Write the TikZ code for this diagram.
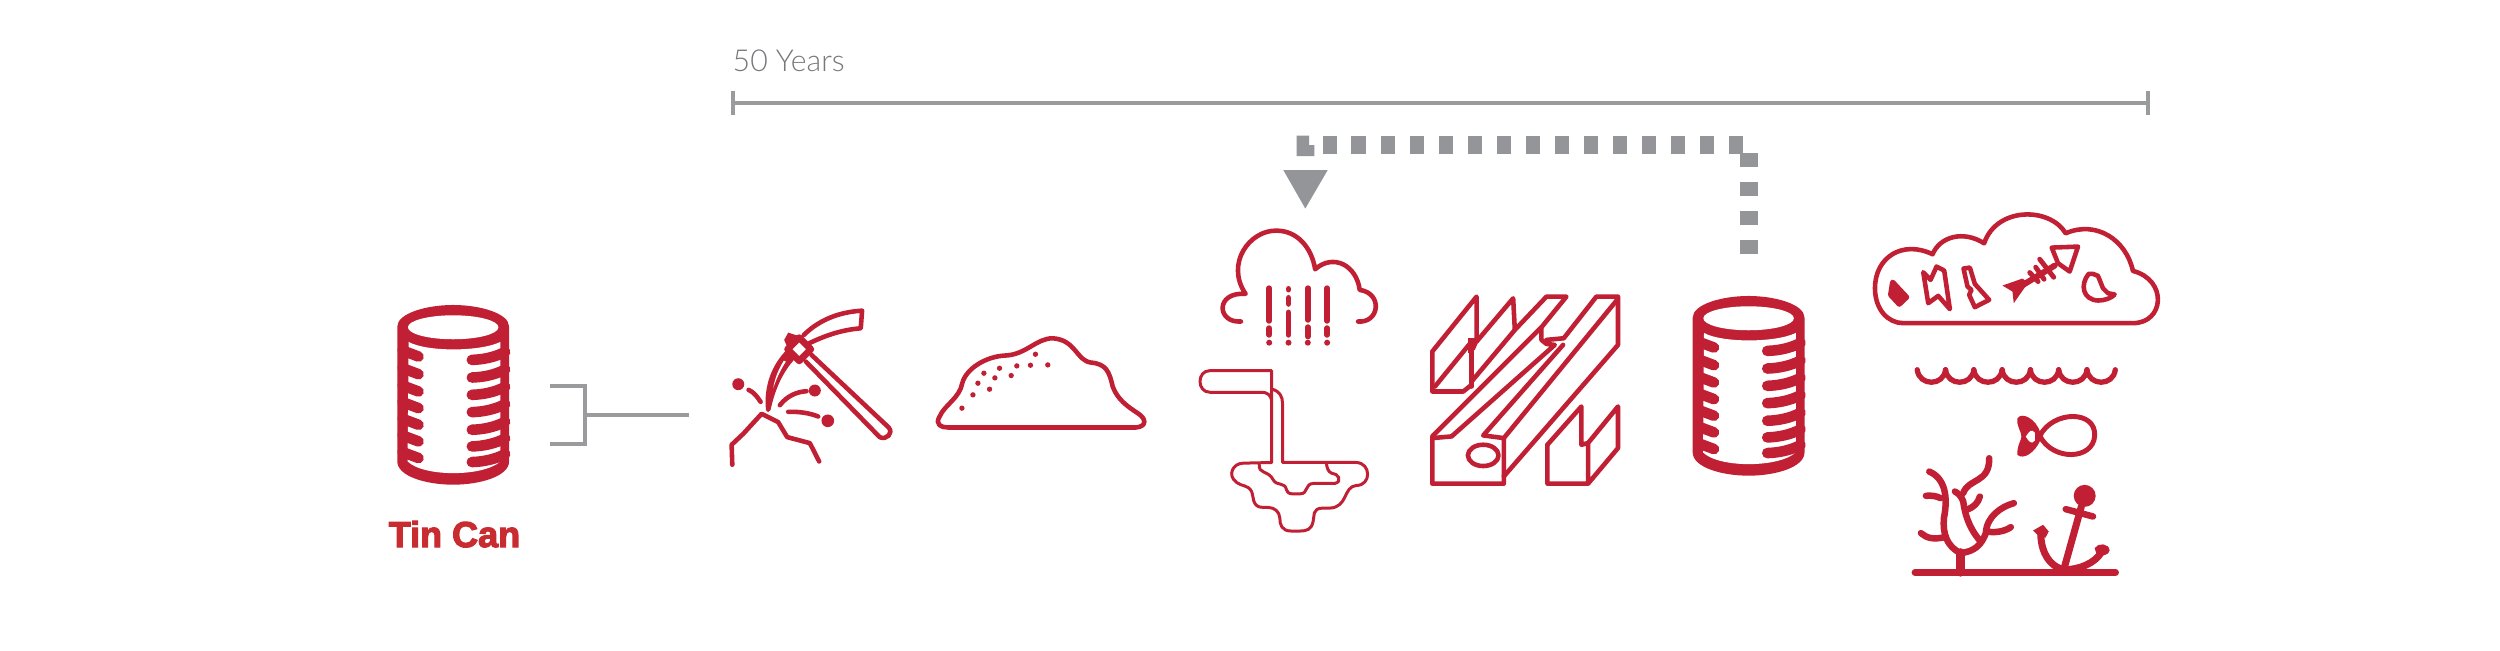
\documentclass[tikz,border=0pt]{standalone}
\usepackage{fontspec}
\setmainfont{Liberation Sans}
\newfontfamily\thinfont{Lato Light}
\newfontfamily\heavyfont[FakeBold=3.2]{Liberation Sans Bold}
\definecolor{tinred}{HTML}{C11F34}
\definecolor{labelred}{HTML}{C82C30}
\definecolor{rulegray}{HTML}{9A9B9D}
\definecolor{dotgray}{HTML}{939598}
\definecolor{textgray}{HTML}{77787B}
\tikzset{
  zoomed/.style n args={2}{xshift=#1*0.01cm,yshift=-#2*0.01cm,x=0.0033333cm,y=-0.0033333cm},
  ink/.style={draw=tinred,line width=1.3pt,line cap=round,line join=round},
  thinink/.style={draw=tinred,line width=0.85pt,line cap=round,line join=round},
  heavyink/.style={draw=tinred,line width=1.9pt,line cap=round,line join=round},
  solid red/.style={fill=tinred,draw=tinred,line width=0.4pt,line join=round},
  graybar/.style={draw=rulegray,line width=1.15pt},
  gapline/.style={draw=dotgray,line width=5.12pt,dash pattern=on 4.17pt off 4.08pt},
}
\newcommand{\canicon}[2]{%
\begin{scope}[zoomed={#1}{#2}]
 \fill[tinred] (112,140) .. controls (112,100) and (200,75) .. (280,75) .. controls (360,75) and (448,100) .. (448,140)
   -- (448,545) .. controls (448,590) and (360,615) .. (280,615) .. controls (200,615) and (112,590) .. (112,545) -- cycle;
 \fill[white] (280,142) ellipse [x radius=136,y radius=36];
 \fill[white] (146,186) .. controls (200,216) and (360,216) .. (422,186) -- (422,545)
   .. controls (370,592) and (190,592) .. (143,545) -- cycle;
 \foreach \yy in {230,283,335,385,435,485,535}
   \draw[tinred,line width=3pt,line cap=round] (128,\yy-18) -- (176,\yy);
 \foreach \yy in {240,293,345,397,450,500,547}
   \draw[tinred,line width=3pt,line cap=round] (336,\yy) .. controls (370,\yy-1) and (405,\yy-8) .. (436,\yy-24);
\end{scope}}
\begin{document}
\begin{tikzpicture}[x=0.01cm,y=-0.01cm]
\useasboundingbox (0,0) rectangle (2500,650);
\fill[white] (0,0) rectangle (2500,650);

% ---- time rule and its label
\coordinate (ruleL) at (733,103);
\coordinate (ruleR) at (2148,103);
\draw[graybar] (ruleL) -- (ruleR);
\draw[graybar] (733,91) -- (733,115);
\draw[graybar] (2148,91) -- (2148,115);
\node[anchor=base west,inner sep=0pt,text=textgray,font=\thinfont\fontsize{8.6pt}{10pt}\selectfont] (yearsLabel) at (732,71) {50 Years};

% ---- bracket
\coordinate (brTop) at (550,386);
\coordinate (brBot) at (550,444);
\coordinate (brStem) at (585,415);
\coordinate (brEnd) at (689,415);
\draw[graybar,line join=miter] (brTop) -| (brStem) |- (brBot);
\draw[graybar] (brStem) -- (brEnd);

% ---- recycling return
\coordinate (retA) at (1748.7,254.3);
\coordinate (retB) at (1748.7,153);
\coordinate (retC) at (1743.3,144.7);
\coordinate (retD) at (1323.3,144.7);
\draw[gapline] (retA) -- (retB);
\draw[gapline] (retC) -- (retD);
\fill[dotgray] (1296.7,135.7) -- (1309,135.7) -- (1309,145) -- (1314.3,145) -- (1314.3,156) -- (1296.7,156) -- cycle;
\fill[dotgray] (1283.3,170) -- (1327.7,170) -- (1305.3,208.5) -- cycle;

% ---- cans
\canicon{360}{280}
\canicon{1655.4}{271}
\node[anchor=base west,inner sep=0pt,text=labelred,font=\heavyfont\fontsize{10.25pt}{12pt}\selectfont] (canLabel) at (388,547) {Tin Can};

% ---- pickaxe and pile
\begin{scope}[zoomed={700}{290}]
 \draw[ink] (335,195) -- (567,413) .. controls (582,430) and (560,452) .. (540,442) -- (318,215);
 \fill[tinred] (253,150) -- (265,128) -- (302,140) -- (265,178) -- cycle;
 \draw[heavyink,fill=white] (298,143) -- (333,178) -- (298,213) -- (263,178) -- cycle;
 \draw[ink] (312,135) .. controls (360,88) and (420,66) .. (487,62) -- (483,115) .. controls (420,120) and (370,140) .. (328,160);
 \draw[ink,fill=tinred] (262,188) .. controls (222,230) and (198,290) .. (205,360) .. controls (218,300) and (240,245) .. (282,200);
 \fill[white] (252,212) .. controls (235,240) and (225,265) .. (220,295) .. controls (230,265) and (242,240) .. (258,215) -- cycle;
 \fill[tinred] (115,283) circle[radius=18] (345,302) circle[radius=18] (384,393) circle[radius=19];
 \draw[ink] (146,300) .. controls (160,306) and (172,320) .. (182,336);
 \draw[ink] (240,346) .. controls (262,318) and (290,306) .. (320,304);
 \draw[ink] (265,366) .. controls (300,365) and (330,370) .. (355,380);
 \draw[ink] (97,525) -- (95,465) -- (130,432) -- (185,372) -- (235,397) -- (262,442) -- (330,460) -- (358,515);
 % pile
 \draw[ink] (745,413) -- (1310,413) .. controls (1345,410) and (1340,385) .. (1315,370)
   .. controls (1285,350) and (1255,330) .. (1240,290) .. controls (1230,245) and (1220,222) .. (1175,218)
   .. controls (1130,212) and (1130,150) .. (1060,145) .. controls (1010,145) and (980,195) .. (915,197)
   .. controls (860,200) and (800,235) .. (788,280) .. controls (780,325) and (735,345) .. (720,380)
   .. controls (705,405) and (725,413) .. (745,413) -- cycle;
 \foreach \ax/\ay in {787/355,820/315,835/280,853/250,870/298,886/264,900/235,935/257,952/228,993/226,1008/193,1045/225}
   \fill[tinred] (\ax,\ay) circle[radius=8];
\end{scope}

% ---- rain cloud
\begin{scope}[zoomed={1180}{210}]
 \draw[ink,line width=1.3pt] (183,335) .. controls (110,340) and (105,245) .. (197,252)
   .. controls (135,160) and (210,60) .. (290,62) .. controls (350,62) and (395,110) .. (406,178)
   .. controls (460,130) and (530,165) .. (540,240)
   .. controls (610,250) and (600,340) .. (535,335);
 \draw[line width=1.65pt,line cap=round,tinred] (268,235) -- (268,333) (268,355) -- (268,375);
 \draw[line width=1.65pt,line cap=round,tinred] (326,237) -- (326,239) (326,264) -- (326,282) (326,308) -- (326,375);
 \draw[line width=1.65pt,line cap=round,tinred] (384,235) -- (384,330) (384,352) -- (384,380);
 \draw[line width=1.65pt,line cap=round,tinred] (442,235) -- (442,333) (442,355) -- (442,375);
\end{scope}

% ---- mould
\begin{scope}[zoomed={1180}{340}]
 \foreach \rx in {268,326,384,442} \fill[tinred] (\rx,8) circle[radius=9];
 \draw[thinink] (275,180) .. controls (272,165) and (262,157) .. (245,157) -- (90,157) .. controls (50,157) and (50,92) .. (90,92) -- (275,92) -- (275,368);
 \draw[thinink] (278,148) .. controls (300,155) and (308,170) .. (308,190) -- (308,368) -- (530,368)
   .. controls (575,370) and (575,437) .. (530,437) .. controls (490,440) and (505,503) .. (450,505) -- (430,505)
   .. controls (395,505) and (405,530) .. (400,545) .. controls (395,570) and (380,574) .. (360,574) -- (335,574)
   .. controls (305,574) and (300,555) .. (300,535) .. controls (298,515) and (285,504) .. (265,503) -- (250,503)
   .. controls (215,503) and (222,470) .. (215,455) .. controls (205,435) and (185,440) .. (170,428)
   .. controls (140,405) and (160,370) .. (190,370) -- (275,368);
 \draw[thinink] (238,372) .. controls (235,405) and (265,390) .. (280,420) .. controls (290,440) and (315,425) .. (320,450)
   .. controls (325,465) and (335,462) .. (350,462) -- (362,462) .. controls (385,462) and (375,432) .. (400,431) -- (465,431)
   .. controls (490,425) and (475,400) .. (455,400) .. controls (445,395) and (442,385) .. (440,372);
\end{scope}

% ---- beams
\begin{scope}[zoomed={1400}{270}]
 \begin{scope}[ink,line width=1.3pt]
 \draw (97,505) -- (97,642) -- (312,642) -- (312,505) -- (250,497) -- (490,225) ;
 \draw (312,620) -- (655,225) -- (655,80) -- (590,80) -- (492,205) -- (440,210);
 \draw (312,505) -- (652,90);
 \draw (97,505) -- (155,500) -- (465,225) -- (440,222) -- (425,210) -- (425,172);
 \draw (97,500) -- (425,172) -- (500,80) -- (440,80) -- (345,180) -- (215,335);
 \draw (215,345) -- (190,365) -- (97,365) -- (97,245) -- (230,80) -- (230,215) -- (340,85) -- (345,180);
 \draw (215,215) -- (105,350);
 \draw (215,215) -- (215,350);
 \draw (250,557) ellipse [x radius=46,y radius=32];
 \draw (443,525) -- (443,642) -- (565,642) -- (655,535) -- (655,410) -- (565,520) -- (565,642);
 \draw (443,525) -- (545,410) -- (545,525) -- (565,520);
 \end{scope}
 \fill[tinred] (205,205) -- (240,205) -- (225,240) -- (205,250) -- cycle;
\end{scope}

% ---- trash cloud
\begin{scope}[zoomed={1860}{200}]
 \draw[ink,line width=1.3pt] (130,370) -- (820,370) .. controls (915,370) and (925,240) .. (820,213)
   .. controls (800,120) and (710,60) .. (618,100) .. controls (570,20) and (410,20) .. (373,130)
   .. controls (310,90) and (240,110) .. (218,163) .. controls (130,120) and (45,170) .. (45,265)
   .. controls (45,330) and (85,370) .. (130,370) -- cycle;
 \draw[solid red,line width=1.5pt] (98,247) -- (140,292) -- (118,313) -- (92,285) -- cycle;
 \draw[ink] (190,217) -- (212,240) -- (230,200) -- (253,212) -- (270,328) -- (235,288) -- (205,310) -- cycle;
 \draw[ink] (311,206) -- (330,203) -- (345,252) -- (388,300) -- (345,322) -- (328,285) -- (335,270) -- (323,260) -- cycle;
 \fill[tinred] (428,257) -- (488,236) -- (505,248) -- (490,270) -- (462,310) -- (458,275) -- cycle;
 \draw[tinred,line width=1.7pt,line cap=round] (490,255) -- (585,197);
 \foreach \ax/\ay/\bx/\by in {510/218/535/245,528/202/553/238,540/178/582/232}
   \draw[tinred,line width=1.4pt,line cap=round] (\ax,\ay) -- (\bx,\by);
 \draw[ink] (576,143) -- (655,140) -- (630,215) -- (595,190) -- cycle;
 \draw[ink] (687,222) .. controls (660,255) and (670,300) .. (715,302) .. controls (735,302) and (755,295) .. (765,284)
   -- (745,280) -- (730,265) -- (722,245) -- (715,228) -- (700,222) -- cycle;
 % waves
 \foreach \wx in {172,257,342,427,512,597,682}
   \draw[tinred,line width=1.5pt,line cap=round] (\wx,510) .. controls (\wx+6,560) and (\wx+79,560) .. (\wx+85,510);
\end{scope}

% ---- sea floor
\begin{scope}[zoomed={1880}{390}]
 \draw[tinred,line width=1.4pt,line cap=round] (480,138) .. controls (520,60) and (650,60) .. (645,138) .. controls (640,210) and (520,215) .. (480,138) -- cycle;
 \fill[tinred] (413,85) .. controls (425,65) and (470,85) .. (482,130) -- (482,150) .. controls (465,190) and (430,210) .. (413,195) .. controls (410,170) and (425,150) .. (425,140) .. controls (425,125) and (408,105) .. (413,85) -- cycle;
 \fill[white] (438,140) .. controls (448,125) and (455,115) .. (465,128) -- (465,152) .. controls (455,165) and (448,155) .. (438,140) -- cycle;
 \draw[tinred,line width=1.9pt,line cap=round] (105,548) -- (708,548);
 \begin{scope}[tinred,line cap=round,line join=round,line width=1.85pt]
 \draw[line width=2.4pt] (242,548) -- (242,488);
 \draw (242,490) .. controls (200,470) and (188,430) .. (192,385) .. controls (205,320) and (195,265) .. (148,245);
 \draw (182,325) .. controls (170,318) and (150,316) .. (138,318);
 \draw (195,442) .. controls (160,450) and (140,445) .. (123,430);
 \draw (242,490) .. controls (285,485) and (305,465) .. (318,430) .. controls (320,380) and (365,350) .. (402,340);
 \draw (320,425) .. controls (345,430) and (375,425) .. (393,412);
 \draw (298,450) .. controls (265,410) and (255,370) .. (250,335) .. controls (245,320) and (235,310) .. (225,305);
 \draw (250,310) .. controls (265,265) and (330,280) .. (328,205);
 \draw (265,358) .. controls (280,352) and (295,340) .. (300,320);
 \draw[line width=2pt] (605,350) -- (552,540);
 \draw (558,358) -- (640,380);
 \draw[line width=2pt] (483,435) .. controls (485,490) and (510,530) .. (552,540) .. controls (600,540) and (645,520) .. (665,488);
 \end{scope}
 \fill[tinred] (615,318) circle[radius=33];
 \fill[tinred] (460,422) -- (490,405) -- (507,425) -- (497,444) -- (475,437) -- cycle;
 \fill[tinred] (645,475) .. controls (655,458) and (688,460) .. (690,482) .. controls (687,497) and (670,497) .. (652,498) -- cycle;
\end{scope}
\end{tikzpicture}
\end{document}
